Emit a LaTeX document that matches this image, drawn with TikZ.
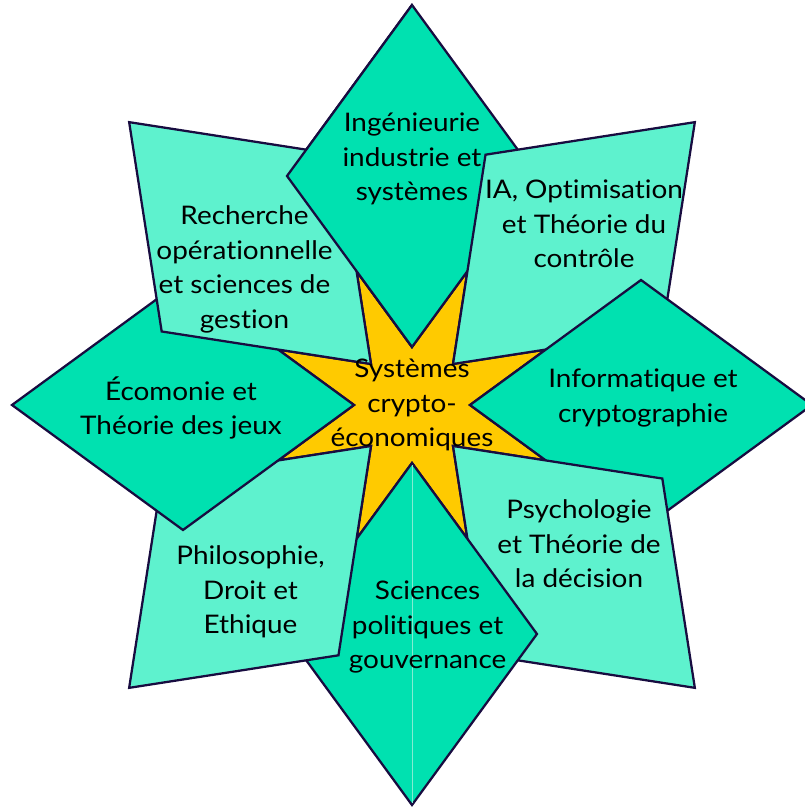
\documentclass[tikz,border=0pt]{standalone}
\usepackage{fontspec}
\setmainfont{Lato}[Ligatures={NoCommon},FakeStretch=1.09]
\definecolor{dia}{RGB}{0,225,176}
\definecolor{quad}{RGB}{94,242,206}
\definecolor{starc}{RGB}{255,202,0}
\definecolor{edgec}{RGB}{24,12,64}
\definecolor{seamc}{RGB}{130,236,210}
\begin{document}
\begin{tikzpicture}[x=0.75pt,y=0.75pt,
  petal/.style={draw=edgec,line width=1.7pt,line join=miter},
  starfill/.style={draw=edgec,line width=1.7pt,fill=starc,line join=miter},
  lbl/.style={align=center,inner sep=0pt,text=black,font=\fontsize{19.2pt}{25.9pt}\selectfont}]
\useasboundingbox (-412,-405) rectangle (393,405);
\clip (-412,-405) rectangle (393,405);
% central star
\filldraw[starfill] (0:58) \foreach \k in {0,...,7} { -- ({22.5+45*\k}:144.87) -- ({45+45*\k}:58) } -- cycle;
% petals in pinwheel order
\foreach \a/\c in {90/dia,45/quad,0/dia,-45/quad,-90/dia,-135/quad,180/dia,135/quad} {
  \filldraw[petal,fill=\c,rotate=\a] (58,0) -- (229,125) -- (400,0) -- (229,-125) -- cycle;
}
% top petal over the left neighbour
\begin{scope}
  \clip (-412,0) rectangle (0,405);
  \filldraw[petal,fill=dia,rotate=90] (58,0) -- (229,125) -- (400,0) -- (229,-125) -- cycle;
\end{scope}
% faint seam in the bottom petal
\draw[seamc,line width=0.6pt] (0,-60) -- (0,-398);
% labels
\node[lbl] (ing) at (0,246) {Ingénieurie\\industrie et\\systèmes};
\node[lbl] (rech) at (-167.5,135.5) {Recherche\\opérationnelle\\et sciences de\\gestion};
\node[lbl] (ia) at (172,181) {IA, Optimisation\\et Théorie du\\contrôle};
\node[lbl] (info) at (231,7) {Informatique et\\cryptographie};
\node[lbl] (eco) at (-231,-3) {Écomonie et\\Théorie des jeux};
\node[lbl] (sys) at (0,0) {Systèmes\\crypto-\\économiques};
\node[lbl] (psy) at (167,-139) {Psychologie\\et Théorie de\\la décision};
\node[lbl] (phi) at (-161.5,-187) {Philosophie,\\Droit et\\Ethique};
\node[lbl] (sci) at (15.6,-222) {Sciences\\politiques et\\gouvernance};
\end{tikzpicture}
\end{document}
